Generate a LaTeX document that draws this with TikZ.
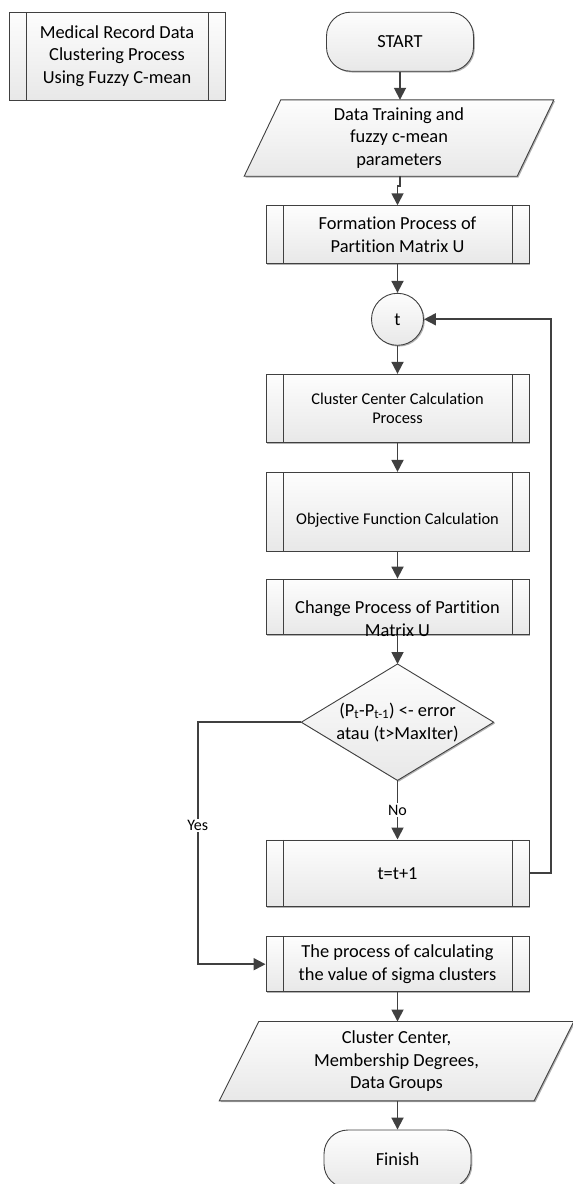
\documentclass[tikz,border=0pt]{standalone}
\usepackage{fontspec}
\setmainfont{Carlito}[Ligatures={NoCommon}]
\usetikzlibrary{arrows.meta,shadows,backgrounds,calc}
\definecolor{linec}{HTML}{404040}
\definecolor{filltop}{HTML}{FDFDFD}
\definecolor{fillbot}{HTML}{E8E8E8}
\tikzset{
  base/.style={draw=linec, line width=0.9pt, top color=filltop, bottom color=fillbot,
    drop shadow={shadow xshift=1.3pt, shadow yshift=-1.3pt, fill=black, opacity=0.3}},
  big/.style={font=\fontsize{18.4}{22.7}\selectfont, align=center},
  small/.style={font=\fontsize{16.4}{19.2}\selectfont, align=center},
  proc/.style={base, big, rectangle, minimum width=263pt, inner sep=0pt,
    path picture={\draw[linec, line width=0.9pt]
      ([xshift=17pt]path picture bounding box.north west) -- ([xshift=17pt]path picture bounding box.south west)
      ([xshift=-17pt]path picture bounding box.north east) -- ([xshift=-17pt]path picture bounding box.south east);}},
  term/.style={base, big, rectangle, rounded corners=24pt, minimum width=147pt, minimum height=59pt},
  conn/.style={base, big, circle, minimum size=52pt, inner sep=0pt},
  txtbox/.style={big, rectangle, inner sep=0pt},
  arr/.style={draw=linec, line width=1.8pt, -{Triangle[length=12pt, width=12pt]}},
  lbl/.style={fill=white, font=\fontsize{16}{19}\selectfont, inner sep=1.5pt}
}
\begin{document}
\begin{tikzpicture}[x=1pt, y=-1pt]
\useasboundingbox (0,0) rectangle (573,1184);

\node[proc, minimum width=216pt, minimum height=88pt] (title) at (117,56)
  {Medical Record Data\\Clustering Process\\Using Fuzzy C-mean};

\node[term] (start) at (400,41.7) {START};
\node[txtbox, minimum width=272.6pt, minimum height=76pt] (in1) at (399,138)
  {Data Training and\\fuzzy c-mean\\parameters};
\node[proc, minimum height=57.6pt] (form) at (397.5,234.5) {Formation Process of\\Partition Matrix U};
\node[conn] (t) at (397.5,319.3) {t};
\node[proc, small, minimum height=68.4pt] (clus) at (397.5,408.5) {Cluster Center Calculation\\Process};
\node[proc, minimum height=78.7pt,
  label={[small, yshift=-9pt]center:Objective Function Calculation}] (obj) at (397.5,511.7) {};
\node[proc, minimum height=55.3pt,
  label={[big, yshift=-12pt]center:Change Process of Partition\\Matrix U}] (chg) at (397.5,606.7) {};
\node[txtbox, minimum width=192pt, minimum height=116pt] (dec) at (397.5,722.2)
  {(P\textsubscript{t}-P\textsubscript{t-1}) <- error\\atau (t>MaxIter)};
\node[proc, minimum height=66.7pt] (inc) at (397.5,873.3) {t=t+1};
\node[proc, minimum height=55pt] (sig) at (397.5,964.2) {The process of calculating\\the value of sigma clusters};
\node[txtbox, minimum width=314.5pt, minimum height=79pt] (out) at (396.5,1061.2)
  {Cluster Center,\\Membership Degrees,\\Data Groups};
\node[term, minimum height=58pt] (fin) at (397.5,1159) {Finish};

\begin{scope}[on background layer]
  \path[base] ([xshift=18.3pt]in1.north west) -- ([xshift=18.3pt]in1.north east)
    -- ([xshift=-18.3pt]in1.south east) -- ([xshift=-18.3pt]in1.south west) -- cycle;
  \path[base] (dec.north) -- (dec.east) -- (dec.south) -- (dec.west) -- cycle;
  \path[base] ([xshift=19.8pt]out.north west) -- ([xshift=19.8pt]out.north east)
    -- ([xshift=-19.8pt]out.south east) -- ([xshift=-19.8pt]out.south west) -- cycle;
\end{scope}

\coordinate (yesx) at (197.7,0);

\draw[arr] (start.south) -- (start.south |- in1.north);
\draw[arr] (start.south |- in1.south) -- ++(0,10) -| (form.north);
\draw[arr] (form) -- (t);
\draw[arr] (t) -- (clus);
\draw[arr] (clus) -- (obj);
\draw[arr] (obj) -- (chg);
\draw[arr] (chg) -- (dec.north);
\draw[arr] (dec.south) -- node[lbl] {No} (inc.north);
\draw[arr] (dec.west) -| node[lbl, pos=0.713] {Yes} (yesx |- sig.west) -- (sig.west);
\draw[arr] (inc.east) -- ++(21.3,0) |- (t.east);
\draw[arr] (sig.south) -- (sig.south |- out.north);
\draw[arr] (fin.north |- out.south) -- (fin.north);
\end{tikzpicture}
\end{document}
